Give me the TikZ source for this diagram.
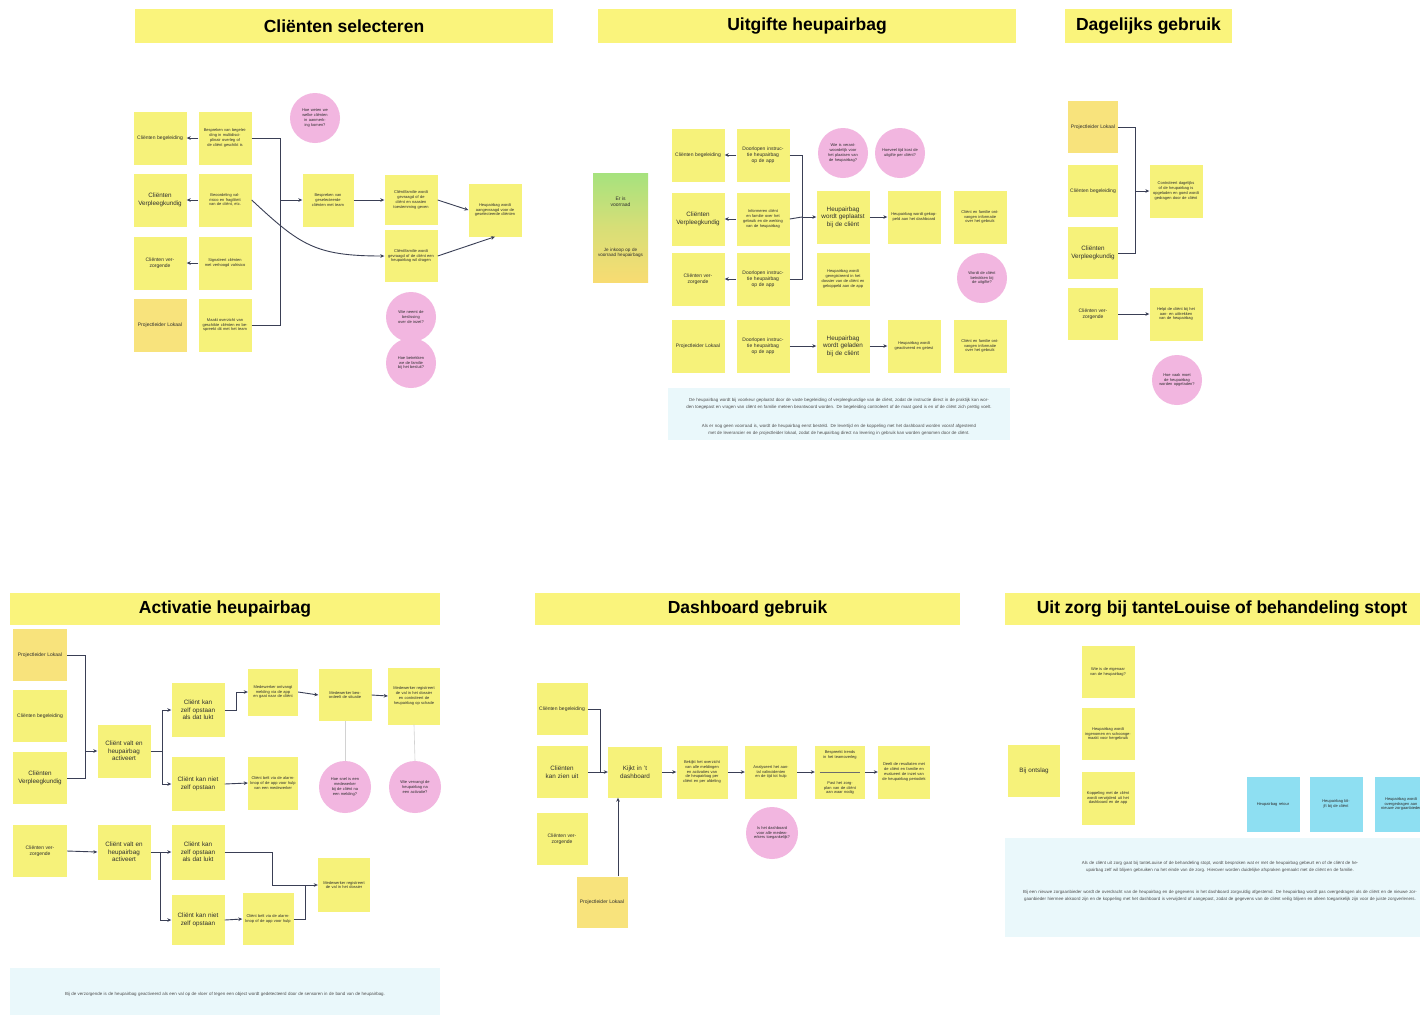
\documentclass[tikz,border=0pt]{standalone}
\usepackage{fontspec}
\setmainfont{Liberation Sans}
\usetikzlibrary{arrows.meta}

\definecolor{stky}{HTML}{F6F27A}
\definecolor{stkor}{HTML}{F8E37C}
\definecolor{ttlY}{HTML}{FAF47C}
\definecolor{pnk}{HTML}{F2B6E0}
\definecolor{notebg}{HTML}{EAF8FB}
\definecolor{cyanbox}{HTML}{8EDFF2}
\definecolor{lineC}{HTML}{3A3F55}
\definecolor{txt}{HTML}{2E2E2E}
\definecolor{vgreen}{HTML}{A6E27E}
\definecolor{vorange}{HTML}{F8DC72}

\tikzset{
  stk/.style={fill=stky, minimum width=53pt, minimum height=53pt, inner sep=1pt,
    align=center, text width=46pt, text=txt, font=\fontsize{4}{4.8}\selectfont},
  stkO/.style={stk, fill=stkor},
  big/.style={font=\fontsize{6.3}{7.6}\selectfont},
  mid/.style={font=\fontsize{5}{6}\selectfont},
  bubble/.style={circle, fill=pnk, minimum size=50pt, inner sep=0pt, align=center,
    text width=36pt, text=txt, font=\fontsize{4}{4.8}\selectfont},
  ttl/.style={fill=ttlY, minimum height=34pt, inner sep=0pt, text=black,
    font=\bfseries\fontsize{17.5}{19}\selectfont},
  arr/.style={draw=lineC, line width=0.9pt, -{Stealth[length=4pt,width=3.6pt]}},
  ln/.style={draw=lineC, line width=0.9pt},
  faint/.style={draw=gray!35, line width=0.6pt},
  notebox/.style={fill=notebg, draw=none},
  notetxt/.style={align=center, text=txt!85, font=\fontsize{4.4}{7}\selectfont},
  blue/.style={stk, fill=cyanbox, minimum height=55pt},
}

\begin{document}
\begin{tikzpicture}[x=1pt,y=-1pt]
\useasboundingbox[fill=white] (0,0) rectangle (1420,1018);

% ---------------- Cliënten selecteren ----------------
\node[ttl, minimum width=418pt] (t1) at (344,26) {Cliënten selecteren};

\node[stk, mid] (s1a1) at (160,138) {Cliënten begeleiding};
\node[stk, big] (s1a2) at (160,200) {Cliënten Verpleeg\-kundig};
\node[stk, mid] (s1a3) at (160,263) {Cliënten verzorgende};
\node[stkO, mid] (s1a4) at (160,325) {Projectleider Lokaal};

\node[stk] (s1b1) at (225,138) {Bespreken van begeleiding in multidisciplinair overleg of de cliënt geschikt is};
\node[stk] (s1b2) at (225,200) {Beoordeling valrisico en fragiliteit van de cliënt, etc.};
\node[stk] (s1b3) at (225,263) {Signaleert cliënten met verhoogd valrisico};
\node[stk] (s1b4) at (225,325) {Maakt overzicht van geschikte cliënten en bespreekt dit met het team};

\node[stk, minimum width=51pt] (s1c) at (328,200) {Bespreken van geselecteerde cliënten met team};
\node[stk, minimum height=50pt] (s1d1) at (411,200) {Cliënt/familie wordt gevraagd of de cliënt en naasten toestemming geven};
\node[stk, minimum height=52pt] (s1d2) at (411,256) {Cliënt/familie wordt gevraagd of de cliënt een heupairbag wil dragen};
\node[stk] (s1e) at (495,210) {Heupairbag wordt aangevraagd voor de geselecteerde cliënten};

\node[bubble] (s1p1) at (315,118) {Hoe weten we welke cliënten in aanmerking komen?};
\node[bubble] (s1p2) at (411,317) {Wie neemt de beslissing over de inzet?};
\node[bubble] (s1p3) at (411,363) {Hoe betrekken we de familie bij het besluit?};

\draw[arr] (s1b1.west) -- (s1a1.east);
\draw[arr] (s1b2.west) -- (s1a2.east);
\draw[arr] (s1b3.west) -- (s1a3.east);
\coordinate (s1j) at (280,200);
\draw[ln] (s1b1.east) -| (s1j);
\draw[ln] (s1b4.east) -| (s1j);
\draw[arr] (s1j) -- (s1c.west);
\draw[arr] (s1c.east) -- (s1d1.west);
\draw[arr] (s1b2.east) .. controls (300,245) and (315,256) .. (s1d2.west);
\draw[arr] (s1d1.east) -- (s1e.west);
\draw[arr] (s1d2.east) -- (s1e.south);

% ---------------- Uitgifte heupairbag ----------------
\node[ttl, minimum width=418pt] (t2) at (807,26) {Uitgifte heupairbag};

\node[minimum width=55pt, minimum height=109pt, inner sep=0pt,
      top color=vgreen, bottom color=vorange, middle color=vorange!60!vgreen] (s2g) at (620.5,227.5) {};
\node[align=center, text=txt, font=\fontsize{5}{6}\selectfont] at (620.5,202) {Er is\\voorraad};
\node[align=center, text=txt, text width=50pt, font=\fontsize{4.6}{5.6}\selectfont] at (620.5,253) {Je inkoop op de voorraad heupairbags};

\node[stk, mid] (s2a1) at (698,155) {Cliënten begeleiding};
\node[stk, big] (s2a2) at (698,219) {Cliënten Verpleeg\-kundig};
\node[stk, mid] (s2a3) at (698,279) {Cliënten verzorgende};
\node[stk, mid] (s2a4) at (698,346) {Projectleider Lokaal};

\node[stk, mid] (s2b1) at (763,155) {Doorlopen instructie heupairbag op de app};
\node[stk] (s2b2) at (763,219) {Informeren cliënt en familie over het gebruik en de werking van de heupairbag};
\node[stk, mid] (s2b3) at (763,279) {Doorlopen instructie heupairbag op de app};
\node[stk, mid] (s2b4) at (763,346) {Doorlopen instructie heupairbag op de app};

\node[stk, big] (s2c) at (843,217) {Heupairbag wordt geplaatst bij de cliënt};
\node[stk] (s2c2) at (843,279) {Heupairbag wordt geregistreerd in het dossier van de cliënt en gekoppeld aan de app};
\node[stk, big] (s2c4) at (843,346) {Heupairbag wordt geladen bij de cliënt};
\node[stk] (s2d) at (914,217) {Heupairbag wordt gekoppeld aan het dashboard};
\node[stk] (s2e) at (980,217) {Cliënt en familie ontvangen informatie over het gebruik};
\node[stk] (s2d4) at (914,346) {Heupairbag wordt geactiveerd en getest};
\node[stk] (s2e4) at (980,346) {Cliënt en familie ontvangen informatie over het gebruik};

\node[bubble] (s2p1) at (843,153) {Wie is verantwoordelijk voor het plaatsen van de heupairbag?};
\node[bubble] (s2p2) at (900,153) {Hoeveel tijd kost de uitgifte per cliënt?};
\node[bubble] (s2p3) at (982,278) {Wordt de cliënt betrokken bij de uitgifte?};

\draw[arr] (s2b1.west) -- (s2a1.east);
\draw[arr] (s2b2.west) -- (s2a2.east);
\draw[arr] (s2b3.west) -- (s2a3.east);
\coordinate (s2j) at (802,217);
\draw[ln] (s2b1.east) -| (s2j);
\draw[ln] (s2b3.east) -| (s2j);
\draw[ln] (s2b2.east) -- (s2j);
\draw[arr] (s2j) -- (s2c.west);
\draw[arr] (s2c.east) -- (s2d.west);
\draw[arr] (s2b4.east) -- (s2c4.west);
\draw[arr] (s2c4.east) -- (s2d4.west);

\node[notebox, minimum width=342pt, minimum height=52pt] (s2n) at (839,414) {};
\node[notetxt, text width=334pt] at (839,404) {De heupairbag wordt bij voorkeur geplaatst door de vaste begeleiding of verpleegkundige van de cliënt, zodat de instructie direct in de praktijk kan worden toegepast en vragen van cliënt en familie meteen beantwoord worden. De begeleiding controleert of de maat goed is en of de cliënt zich prettig voelt.};
\node[notetxt, text width=334pt] at (839,430) {Als er nog geen voorraad is, wordt de heupairbag eerst besteld. De levertijd en de koppeling met het dashboard worden vooraf afgestemd met de leverancier en de projectleider lokaal, zodat de heupairbag direct na levering in gebruik kan worden genomen door de cliënt.};

% ---------------- Dagelijks gebruik ----------------
\node[ttl, minimum width=167pt] (t3) at (1148.5,26) {Dagelijks gebruik};

\node[stkO, mid, minimum width=50pt, minimum height=52pt] (s3a1) at (1093,127) {Projectleider Lokaal};
\node[stk, mid, minimum width=50pt, minimum height=52pt] (s3a2) at (1093,191) {Cliënten begeleiding};
\node[stk, big, minimum width=50pt, minimum height=52pt] (s3a3) at (1093,253) {Cliënten Verpleeg\-kundig};
\node[stk, mid, minimum width=50pt, minimum height=52pt] (s3a4) at (1093,314) {Cliënten verzorgende};
\node[stk] (s3b) at (1176,191) {Controleert dagelijks of de heupairbag is opgeladen en goed wordt gedragen door de cliënt};
\node[stk] (s3b4) at (1176,314) {Helpt de cliënt bij het aan- en uittrekken van de heupairbag};
\node[bubble] (s3p) at (1177,380) {Hoe vaak moet de heupairbag worden opgeladen?};

\coordinate (s3j) at (1135,191);
\draw[ln] (s3a1.east) -| (s3j);
\draw[ln] (s3a3.east) -| (s3j);
\draw[arr] (s3j) -- (s3b.west);
\draw[arr] (s3a4.east) -- (s3b4.west);

% ---------------- Activatie heupairbag ----------------
\node[ttl, minimum width=430pt, minimum height=32pt] (t4) at (225,609) {Activatie heupairbag};

\node[stkO, minimum width=54pt, minimum height=52pt, mid] (s4a1) at (40,655) {Projectleider Lokaal};
\node[stk, minimum width=54pt, minimum height=52pt, mid] (s4a2) at (40,716) {Cliënten begeleiding};
\node[stk, minimum width=54pt, minimum height=52pt, big] (s4a3) at (40,778) {Cliënten Verpleeg\-kundig};
\node[stk, minimum width=54pt, minimum height=52pt, mid] (s4a4) at (40,851) {Cliënten verzorgende};

\node[stk, big] (s4b) at (124,751) {Cliënt valt en heupairbag activeert};
\node[stk, big, minimum height=54pt] (s4c1) at (198,710) {Cliënt kan zelf opstaan als dat lukt};
\node[stk, big, minimum height=54pt] (s4c2) at (198,784) {Cliënt kan niet zelf opstaan};
\node[stk, minimum width=50pt, minimum height=47pt] (s4d1) at (273,692) {Medewerker ontvangt melding via de app en gaat naar de cliënt};
\node[stk, minimum width=50pt] (s4d2) at (273,783) {Cliënt belt via de alarmknop of de app voor hulp van een medewerker};
\node[stk, minimum height=52pt] (s4e1) at (345,695) {Medewerker beoordeelt de situatie};
\node[stk, minimum width=52pt, minimum height=57pt] (s4f1) at (414,696) {Medewerker registreert de val in het dossier en controleert de heupairbag op schade};
\node[bubble, minimum size=52pt] (s4p1) at (345,787) {Hoe snel is een medewerker bij de cliënt na een melding?};
\node[bubble, minimum size=52pt] (s4p2) at (415,787) {Wie vervangt de heupairbag na een activatie?};

\coordinate (s4j) at (85,751);
\draw[ln] (s4a1.east) -| (s4j);
\draw[ln] (s4a3.east) -| (s4j);
\draw[arr] (s4j) -- (s4b.west);
\coordinate (s4s) at (162,751);
\draw[ln] (s4b.east) -- (s4s);
\draw[arr] (s4s) |- (s4c1.west);
\draw[arr] (s4s) |- (s4c2.west);
\draw[arr] (s4c1.east) -- ++(12,0) |- (s4d1.west);
\draw[arr] (s4c2.east) -- (s4d2.west);
\draw[arr] (s4d1.east) -- (s4e1.west);
\draw[arr] (s4e1.east) -- (s4f1.west);
\draw[faint] (s4e1.south) -- (s4p1.north);
\draw[faint] (s4f1.south) -- (s4p2.north);

\node[stk, big, minimum height=55pt] (s4g) at (124,852) {Cliënt valt en heupairbag activeert};
\node[stk, big, minimum height=55pt] (s4h1) at (198,852) {Cliënt kan zelf opstaan als dat lukt};
\node[stk, big, minimum height=50pt] (s4h2) at (198,920) {Cliënt kan niet zelf opstaan};
\node[stk, minimum width=51pt, minimum height=52pt] (s4i2) at (268,919) {Cliënt belt via de alarmknop of de app voor hulp};
\node[stk, minimum width=52pt, minimum height=54pt] (s4k) at (344,885) {Medewerker registreert de val in het dossier};

\draw[arr] (s4a4.east) -- (s4g.west);
\coordinate (s4t) at (160,852);
\draw[arr] (s4g.east) -- (s4h1.west);
\draw[arr] (s4t) |- (s4h2.west);
\draw[arr] (s4h2.east) -- (s4i2.west);
\coordinate (s4m) at (272,885);
\coordinate (s4n) at (305,885);
\draw[ln] (s4h1.east) -| (s4m);
\draw[arr] (s4m) -- (s4k.west);
\draw[ln] (s4i2.east) -| (s4n);

\node[notebox, minimum width=430pt, minimum height=47pt] (s4nb) at (225,991.5) {};
\node[notetxt, text width=420pt] at (225,994) {Bij de verzorgende is de heupairbag geactiveerd als een val op de vloer of tegen een object wordt gedetecteerd door de sensoren in de band van de heupairbag.};

% ---------------- Dashboard gebruik ----------------
\node[ttl, minimum width=425pt, minimum height=32pt] (t5) at (747.5,609) {Dashboard gebruik};

\node[stk, mid, minimum width=51pt, minimum height=52pt] (s5a1) at (562,709) {Cliënten begeleiding};
\node[stk, big, minimum width=51pt, minimum height=52pt] (s5a2) at (562,772) {Cliënten kan zien uit};
\node[stk, mid, minimum width=51pt, minimum height=52pt] (s5a3) at (562,839) {Cliënten verzorgende};
\node[stkO, mid, minimum width=51pt, minimum height=51pt] (s5b) at (602,902) {Projectleider Lokaal};
\node[stk, big, minimum width=54pt, minimum height=51pt] (s5h) at (635,772) {Kijkt in 't dashboard};

\node[stk, minimum width=51pt] (s5c) at (702,772) {Bekijkt het overzicht van alle meldingen en activaties van de heupairbag per cliënt en per afdeling};
\node[stk, minimum width=52pt] (s5d) at (771,772) {Analyseert het aantal valincidenten en de tijd tot hulp};
\node[stk, minimum width=50pt] (s5e) at (840,772) {};
\node[align=center, text=txt, text width=44pt, font=\fontsize{4}{4.8}\selectfont] at (840,755) {Bespreekt trends in het teamoverleg};
\draw[draw=txt!70, line width=0.4pt] ([xshift=5pt]s5e.west) -- ([xshift=-5pt]s5e.east);
\node[align=center, text=txt, text width=44pt, font=\fontsize{4}{4.8}\selectfont] at (840,788) {Past het zorgplan van de cliënt aan waar nodig};
\node[stk, minimum width=52pt] (s5f) at (904,772) {Deelt de resultaten met de cliënt en familie en evalueert de inzet van de heupairbag periodiek};
\node[bubble, minimum size=52pt] (s5p) at (772,833) {Is het dashboard voor alle medewerkers toegankelijk?};

\coordinate (s5j) at (600,772);
\draw[ln] (s5a1.east) -| (s5j);
\draw[arr] (s5a2.east) -- (s5h.west);
\draw[arr] ([xshift=16pt]s5b.north) -- ([xshift=-17pt]s5h.south);
\draw[arr] (s5h.east) -- (s5c.west);
\draw[arr] (s5c.east) -- (s5d.west);
\draw[arr] (s5d.east) -- (s5e.west);
\draw[arr] (s5e.east) -- (s5f.west);

% ---------------- Uit zorg ----------------
\begin{scope}
\clip (0,0) rectangle (1420,1018);
\node[fill=ttlY, minimum width=420pt, minimum height=32pt, inner sep=0pt] (t6) at (1215,609) {};
\node[text=black, font=\bfseries\fontsize{17.5}{19}\selectfont] at (1222,609) {Uit zorg bij tanteLouise of behandeling stopt};

\node[stk, big, minimum width=52pt, minimum height=52pt] (s6a) at (1034,771) {Bij ontslag};
\node[stk, minimum height=52pt] (s6b1) at (1108,672) {Wie is de eigenaar van de heupairbag?};
\node[stk, minimum height=52pt] (s6b2) at (1108,734) {Heupairbag wordt ingenomen en schoongemaakt voor hergebruik};
\node[stk, minimum height=53pt] (s6b3) at (1108,798) {Koppeling met de cliënt wordt verwijderd uit het dashboard en de app};

\node[blue] (s6c1) at (1273,804) {Heupairbag retour};
\node[blue] (s6c2) at (1336,804) {Heupairbag blijft bij de cliënt};
\node[blue] (s6c3) at (1401,804) {Heupairbag wordt overgedragen aan nieuwe zorg\-aanbieder};

\node[notebox, minimum width=420pt, minimum height=99pt] (s6n) at (1215,887.5) {};
\node[notetxt, text width=420pt] at (1220,867) {Als de cliënt uit zorg gaat bij tanteLouise of de behandeling stopt, wordt besproken wat er met de heupairbag gebeurt en of de cliënt de heupairbag zelf wil blijven gebruiken na het einde van de zorg. Hierover worden duidelijke afspraken gemaakt met de cliënt en de familie.};
\node[notetxt, text width=420pt] at (1220,896) {Bij een nieuwe zorgaanbieder wordt de overdracht van de heupairbag en de gegevens in het dashboard zorgvuldig afgestemd. De heupairbag wordt pas overgedragen als de cliënt en de nieuwe zorgaanbieder hiermee akkoord zijn en de koppeling met het dashboard is verwijderd of aangepast, zodat de gegevens van de cliënt veilig blijven en alleen toegankelijk zijn voor de juiste zorgverleners.};
\end{scope}

\end{tikzpicture}
\end{document}
